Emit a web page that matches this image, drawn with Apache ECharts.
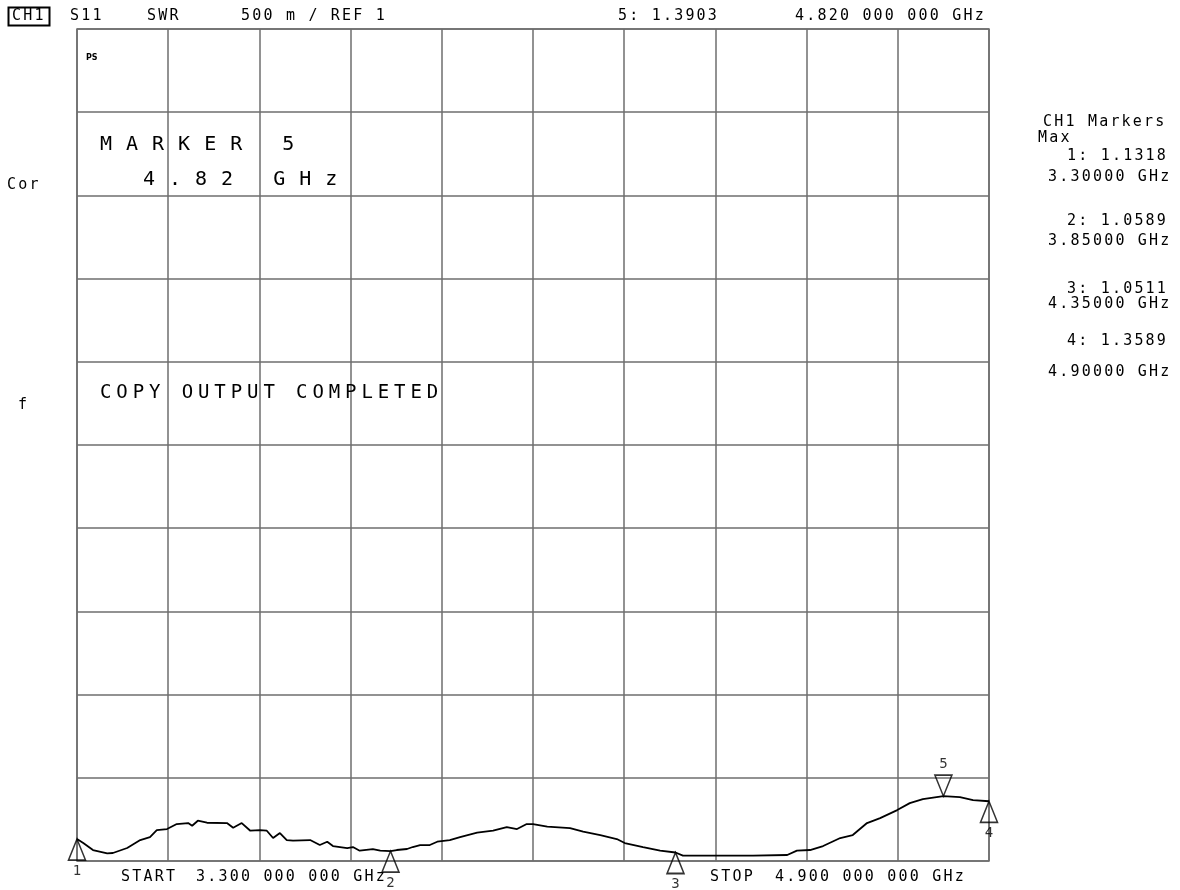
<!DOCTYPE html>
<html><head><meta charset="utf-8">
<script src="https://cdn.jsdelivr.net/npm/echarts@6/dist/echarts.min.js"></script>
<style>html,body{margin:0;padding:0;background:#fff}#c{width:1180px;height:890px}</style>
</head><body><div id="c"></div>
<script>
// ---- data ----
const startGHz = 3.3, stopGHz = 4.9;
const refSWR = 1, perDiv = 0.5, divisions = 10;
const traceFreqGHz = [
 3.300,3.311,3.328,3.353,3.363,3.388,3.411,3.428,3.440,3.458,
 3.475,3.495,3.502,3.512,3.528,3.563,3.574,3.589,3.604,3.621,
 3.633,3.644,3.656,3.668,3.679,3.709,3.726,3.739,3.749,3.774,
 3.784,3.796,3.819,3.832,3.850,3.861,3.879,3.889,3.902,3.919,
 3.932,3.954,3.972,4.002,4.030,4.054,4.072,4.089,4.100,4.125,
 4.165,4.188,4.218,4.247,4.261,4.293,4.323,4.350,4.363,4.416,
 4.486,4.546,4.563,4.586,4.609,4.639,4.661,4.686,4.709,4.739,
 4.761,4.784,4.820,4.849,4.872,4.900];
const traceSWR = [
 1.132,1.108,1.066,1.046,1.048,1.078,1.126,1.144,1.186,1.192,
 1.222,1.228,1.212,1.242,1.230,1.228,1.200,1.228,1.182,1.186,
 1.182,1.138,1.168,1.126,1.122,1.126,1.096,1.116,1.090,1.078,
 1.084,1.062,1.072,1.062,1.059,1.066,1.072,1.084,1.096,1.096,
 1.116,1.126,1.144,1.170,1.182,1.204,1.192,1.222,1.222,1.206,
 1.198,1.176,1.156,1.132,1.108,1.084,1.062,1.051,1.032,1.032,
 1.032,1.036,1.062,1.066,1.090,1.138,1.156,1.228,1.258,1.306,
 1.348,1.372,1.390,1.384,1.366,1.359];
const markerIds = ['1','2','3','4','5'];
const markerFreqGHz = [3.30, 3.85, 4.35, 4.90, 4.82];
const markerSWR = [1.1318, 1.0589, 1.0511, 1.3589, 1.3903];
const activeMarker = 4; // index of marker 5
const headerTexts = ['S11', 'SWR', '500 m / REF 1', '5: 1.3903', '4.820 000 000 GHz'];
const footerTexts = ['START', '3.300 000 000 GHz', 'STOP', '4.900 000 000 GHz'];
const panelTitle = ['CH1 Markers', 'Max'];
const panelValues = ['1: 1.1318', '2: 1.0589', '3: 1.0511', '4: 1.3589'];
const panelFreqs = ['3.30000 GHz', '3.85000 GHz', '4.35000 GHz', '4.90000 GHz'];
const noteTexts = ['MARKER 5', '4.82 GHz', 'COPY OUTPUT COMPLETED'];
const sideTexts = ['Cor', 'f'];

// ---- letter spacing for instrument-style text ----
const LS = {'15px': '2.2px', '19px': '4.9px', '20px': '14px'};
(function(){
  const proto = CanvasRenderingContext2D.prototype;
  const of = proto.fillText;
  proto.fillText = function(t, x, y, mw){
    const m = /(\d+(?:\.\d+)?)px/.exec(this.font || '');
    const ls = (m && LS[m[1] + 'px']) || '0px';
    if ('letterSpacing' in this) this.letterSpacing = ls;
    return mw === undefined ? of.call(this, t, x, y) : of.call(this, t, x, y, mw);
  };
})();

// ---- layout / style ----
const MONO = '"DejaVu Sans Mono"';
const SMALL = '15px ' + MONO, COPYF = '19px ' + MONO, BIG = '20px ' + MONO;
const INK = '#000', GRID = '#6e6e6e';
function txt(s, x, y, font){
  return {type:'text', x:x, y:y, z:10,
    style:{text:s, font:font || SMALL, fill:INK, align:'left', verticalAlign:'middle'}};
}
const graphics = [
  {type:'rect', shape:{x:8.5, y:7.5, width:41, height:18}, style:{fill:'none', stroke:'#000', lineWidth:2}},
  txt('CH1', 12, 16.5),
  txt(headerTexts[0], 70, 16.5),
  txt(headerTexts[1], 147, 16.5),
  txt(headerTexts[2], 241, 16.5),
  txt(headerTexts[3], 618, 16.5),
  txt(headerTexts[4], 795, 16.5),
  txt(footerTexts[0], 121, 877.5),
  txt(footerTexts[1], 196, 877.5),
  txt(footerTexts[2], 710, 877.5),
  txt(footerTexts[3], 775, 877.5),
  txt(sideTexts[0], 7, 185),
  txt(sideTexts[1], 18, 405),
  txt(noteTexts[0], 100, 145, BIG),
  txt(noteTexts[1], 143, 180, BIG),
  txt(noteTexts[2], 100, 393, COPYF),
  {type:'text', x:86, y:57.5, z:10, style:{text:'PS', font:'bold 8px "DejaVu Sans"', fill:INK, verticalAlign:'middle'}},
  txt(panelTitle[0], 1043, 122.5),
  txt(panelTitle[1], 1038, 138)
];
const panelY = [[156,177],[221.5,241],[289,304],[341,372]];
panelValues.forEach((v,i)=>{
  graphics.push(txt(v, 1067, panelY[i][0]));
  graphics.push(txt(panelFreqs[i], 1048, panelY[i][1]));
});

const traceData = traceFreqGHz.map((f,i)=>[f, traceSWR[i]]);
const upMarkers = [], downMarkers = [];
markerIds.forEach((id,i)=>{
  (i === activeMarker ? downMarkers : upMarkers).push([markerFreqGHz[i], markerSWR[i], id]);
});
const markerLabel = {show:true, distance:3, fontFamily:'DejaVu Sans Mono', fontSize:14, color:INK,
  formatter: p => p.value[2]};
const markerStyle = {color:'rgba(0,0,0,0)', borderColor:'#000', borderWidth:1.6};

const chart = echarts.init(document.getElementById('c'), null, {renderer:'canvas'});
chart.setOption({
  animation:false,
  backgroundColor:'#fff',
  grid:{left:77, top:29, width:912, height:832, show:true, borderColor:GRID, borderWidth:1.5},
  xAxis:[
    {type:'value', min:startGHz, max:stopGHz, show:false},
    {type:'value', min:0, max:divisions, interval:1, position:'top',
      axisLine:{show:false}, axisTick:{show:false}, axisLabel:{show:false},
      splitLine:{show:true, lineStyle:{color:GRID, width:1.5}}}
  ],
  yAxis:{type:'value', min:refSWR, max:refSWR + perDiv*divisions, interval:perDiv,
    axisLine:{show:false}, axisTick:{show:false}, axisLabel:{show:false},
    splitLine:{show:true, lineStyle:{color:GRID, width:1.5}}},
  series:[
    {type:'line', xAxisIndex:0, data:traceData, showSymbol:false, symbol:'none',
      lineStyle:{color:'#000', width:1.8}, z:3},
    {type:'scatter', xAxisIndex:0, data:upMarkers, symbol:'triangle', symbolSize:[17,21],
      symbolOffset:[0,'50%'], clip:false, itemStyle:markerStyle, z:5,
      label:Object.assign({position:'bottom'}, markerLabel)},
    {type:'scatter', xAxisIndex:0, data:downMarkers, symbol:'path://M0 0L17 0L8.5 21Z', symbolSize:[17,21],
      symbolOffset:[0,'-50%'], clip:false, itemStyle:markerStyle, z:5,
      label:Object.assign({position:'top'}, markerLabel)}
  ],
  graphic:graphics
});
</script></body></html>
